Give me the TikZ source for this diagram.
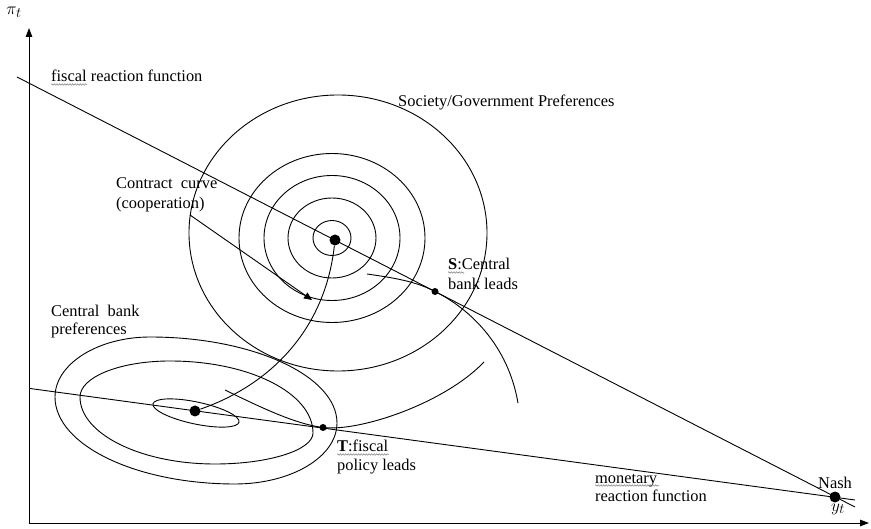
\documentclass[tikz,border=0pt]{standalone}
\usepackage{fontspec}
\setmainfont{Liberation Serif}
\usetikzlibrary{arrows.meta,decorations.pathmorphing}

\begin{document}
\begin{tikzpicture}[x=1pt,y=-1pt,
  curve/.style={line width=0.9pt},
  axisline/.style={line width=1pt,-{Triangle[length=9pt,width=6.5pt]}},
  lbl/.style={anchor=base west,inner sep=0pt,font=\fontsize{16.4}{19}\selectfont},
  axlbl/.style={inner sep=0pt,font=\fontsize{19}{22}\selectfont},
  bigdot/.style={circle,fill=black,inner sep=0pt,minimum size=11pt},
  smalldot/.style={circle,fill=black,inner sep=0pt,minimum size=7pt},
  squiggle/.style={gray,line width=0.5pt,decorate,
    decoration={snake,amplitude=0.8pt,segment length=2.6pt}},
]
\useasboundingbox (0,0) rectangle (871,529);

% axes
\coordinate (O) at (29,523);
\coordinate (Ytop) at (29,28);
\coordinate (Xend) at (869,523);
\draw[axisline] (O) -- (Ytop);
\draw[axisline] (O) -- (Xend);
\node[axlbl] (pi) at (14,12) {$\pi_t$};
\node[axlbl] (yt) at (838,509) {$y_t$};

% society / government indifference curves
\coordinate (SG) at (332,238);
\draw[curve] (338,233) ellipse [x radius=149pt,y radius=138pt];
\draw[curve] (SG) ellipse [x radius=93pt,y radius=84.5pt];
\draw[curve] (SG) ellipse [x radius=68pt,y radius=62.5pt];
\draw[curve] (SG) ellipse [x radius=44pt,y radius=40pt];
\draw[curve] (SG) ellipse [x radius=19pt,y radius=17.5pt];

% central bank indifference curves
\coordinate (CB) at (196,413);
\draw[curve] (55,397) .. controls (55,364) and (98,337) .. (150,337)
  .. controls (253,337) and (337,376) .. (337,423)
  .. controls (337,457) and (291,484) .. (235,484)
  .. controls (136,484) and (55,445) .. cycle;
\draw[curve] (80,397) .. controls (80,377) and (120,361) .. (170,361)
  .. controls (249,361) and (313,393) .. (313,433)
  .. controls (313,450) and (269,464) .. (215,464)
  .. controls (141,464) and (80,434) .. cycle;
\draw[curve,rotate around={-12:(CB)}] (CB) ellipse [x radius=44pt,y radius=11pt];

% reaction functions
\coordinate (F0) at (17,77);
\coordinate (F1) at (855,507);
\coordinate (M0) at (30,388.5);
\coordinate (M1) at (855,500);
\draw[curve] (F0) -- (F1);
\draw[curve] (M0) -- (M1);

% equilibrium points
\node[bigdot] (G) at (335,240) {};
\node[bigdot] (B) at (195,411) {};
\node[bigdot] (N) at (835,497) {};
\node[smalldot] (S) at (435,291.5) {};
\node[smalldot] (T) at (323,427.5) {};

% contract curve
\draw[curve] (G) .. controls (325,330) and (270,385) .. (B);

% tangency curves at S and T
\coordinate (Sa) at (367,274);
\coordinate (Sb) at (518,403);
\draw[curve] (Sa) .. controls (395,278) and (416,281.5) .. (S.center)
  .. controls (470,309) and (508,345) .. (Sb);
\coordinate (Ta) at (225,390);
\coordinate (Tb) at (484,362);
\draw[curve] (Ta) .. controls (260,407) and (295,424) .. (T.center)
  .. controls (360,432) and (445,403) .. (Tb);

% pointer to the contract curve
\coordinate (P0) at (190,215);
\coordinate (P1) at (312,300);
\draw[curve,-{Triangle[length=8pt,width=7pt]}] (P0) -- (P1);

% labels
\node[lbl] (lfisc) at (51,82) {fiscal reaction function};
\node[lbl] (lsoc) at (398,107) {Society/Government Preferences};
\node[lbl] (lcc1) at (116,189) {Contract\ \ curve};
\node[lbl] (lcc2) at (116,209) {(cooperation)};
\node[lbl] (lS1) at (448,270) {\textbf{S}:Central};
\node[lbl] (lS2) at (448,290) {bank leads};
\node[lbl] (lcb1) at (51,317) {Central\ \ bank};
\node[lbl] (lcb2) at (51,335) {preferences};
\node[lbl] (lT1) at (337,452) {\textbf{T}:fiscal};
\node[lbl] (lT2) at (337,471) {policy leads};
\node[lbl] (lm1) at (595,483) {monetary};
\node[lbl] (lm2) at (595,501) {reaction function};
\node[lbl] (lN) at (818,489) {Nash};

% spelling marks under words
\draw[squiggle] ([yshift=-2.5pt]lfisc.base west) -- ++(36,0);
\draw[squiggle] ([yshift=-2.5pt]lS1.base west) -- ++(16,0);
\draw[squiggle] ([yshift=-2.5pt]lT1.base west) -- ++(52,0);
\draw[squiggle] ([yshift=-2.5pt]lm1.base west) -- ++(64,0);
\end{tikzpicture}
\end{document}
